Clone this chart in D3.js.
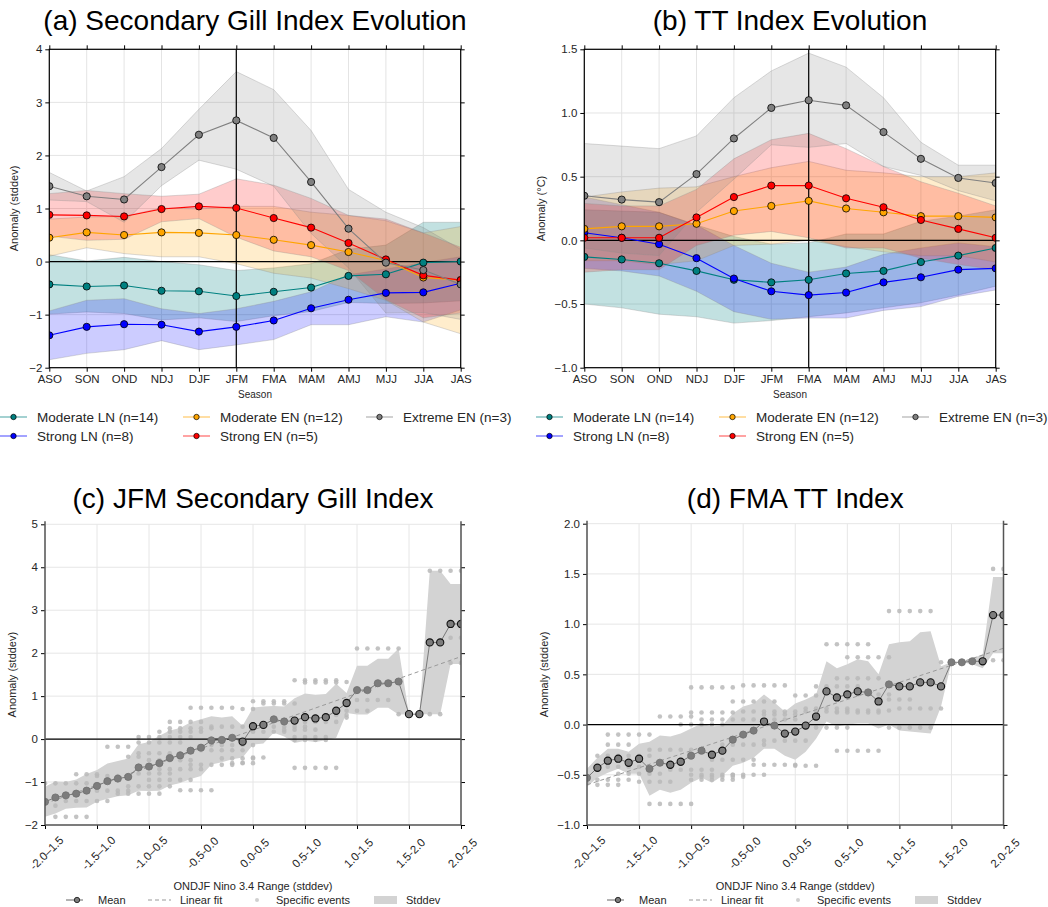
<!DOCTYPE html>
<html>
<head>
<meta charset="utf-8">
<script src="https://cdn.jsdelivr.net/npm/d3@7"></script>
<style>
  body { margin: 0; background: #fff; }
  svg { font-family: "Liberation Sans", Arial, Helvetica, sans-serif; }
</style>
</head>
<body>
<svg id="fig" width="1048" height="907"></svg>
<script>
'use strict';

// ---- data: (a)/(b) seasonal evolution ----
const seasons = ["ASO", "SON", "OND", "NDJ", "DJF", "JFM", "FMA", "MAM", "AMJ", "MJJ", "JJA", "JAS"];
const seriesLabels = ["Moderate LN (n=14)", "Strong LN (n=8)", "Moderate EN (n=12)", "Strong EN (n=5)", "Extreme EN (n=3)"];
const seriesColors = ["#008080", "#0000ff", "#ffa500", "#ff0000", "#808080"];

// (a) secondary Gill index (stddev)
const gillModLN   = [-0.43, -0.47, -0.45, -0.55, -0.56, -0.65, -0.57, -0.49, -0.27, -0.24, -0.02, 0.00];
const gillModLNSd = [0.56, 0.48, 0.53, 0.55, 0.50, 0.48, 0.45, 0.45, 0.50, 0.55, 0.76, 0.74];
const gillStrLN   = [-1.39, -1.23, -1.18, -1.19, -1.32, -1.23, -1.11, -0.88, -0.72, -0.59, -0.58, -0.41];
const gillStrLNSd = [0.46, 0.50, 0.48, 0.30, 0.34, 0.34, 0.36, 0.31, 0.47, 0.45, 0.56, 0.50];
const gillModEN   = [0.45, 0.55, 0.50, 0.55, 0.54, 0.50, 0.41, 0.31, 0.18, 0.02, -0.30, -0.35];
const gillModENSd = [0.35, 0.29, 0.35, 0.46, 0.45, 0.54, 0.63, 0.62, 0.69, 0.75, 0.84, 1.01];
const gillStrEN   = [0.88, 0.87, 0.85, 0.99, 1.04, 1.01, 0.82, 0.64, 0.35, 0.04, -0.26, -0.35];
const gillStrENSd = [0.40, 0.47, 0.43, 0.24, 0.23, 0.55, 0.62, 0.55, 0.52, 0.76, 0.80, 0.62];
const gillExtEN   = [1.42, 1.23, 1.17, 1.78, 2.39, 2.66, 2.33, 1.50, 0.62, -0.02, -0.16, -0.43];
const gillExtENSd = [0.26, 0.10, 0.43, 0.35, 0.48, 0.92, 0.91, 0.97, 0.74, 0.95, 0.80, 0.66];

// (b) TT index (degC)
const ttModLN   = [-0.13, -0.15, -0.18, -0.24, -0.31, -0.33, -0.31, -0.26, -0.24, -0.17, -0.12, -0.06];
const ttModLNSd = [0.37, 0.38, 0.40, 0.36, 0.34, 0.30, 0.29, 0.31, 0.29, 0.32, 0.31, 0.30];
const ttStrLN   = [0.06, 0.02, -0.03, -0.14, -0.30, -0.40, -0.43, -0.41, -0.33, -0.29, -0.23, -0.22];
const ttStrLNSd = [0.28, 0.26, 0.25, 0.26, 0.26, 0.22, 0.18, 0.20, 0.22, 0.23, 0.21, 0.17];
const ttModEN   = [0.09, 0.11, 0.11, 0.13, 0.23, 0.27, 0.31, 0.25, 0.22, 0.19, 0.19, 0.18];
const ttModENSd = [0.25, 0.27, 0.30, 0.29, 0.27, 0.30, 0.31, 0.30, 0.31, 0.31, 0.31, 0.35];
const ttStrEN   = [0.02, 0.02, 0.02, 0.18, 0.34, 0.43, 0.43, 0.33, 0.26, 0.16, 0.09, 0.02];
const ttStrENSd = [0.27, 0.25, 0.25, 0.22, 0.30, 0.36, 0.41, 0.39, 0.32, 0.30, 0.28, 0.25];
const ttExtEN   = [0.35, 0.32, 0.30, 0.52, 0.80, 1.04, 1.10, 1.06, 0.85, 0.64, 0.49, 0.45];
const ttExtENSd = [0.41, 0.42, 0.42, 0.30, 0.32, 0.29, 0.37, 0.30, 0.27, 0.13, 0.10, 0.14];

const gillTicks = [-2, -1, 0, 1, 2, 3, 4];
const ttTicks = [-1.0, -0.5, 0.0, 0.5, 1.0, 1.5];

// ---- data: (c)/(d) composites by ONDJF Nino 3.4 window ----
const windowStarts = [-2.0, -1.9, -1.8, -1.7, -1.6, -1.5, -1.4, -1.3, -1.2, -1.1, -1.0, -0.9, -0.8, -0.7, -0.6, -0.5,
  -0.4, -0.3, -0.2, -0.1, 0.0, 0.1, 0.2, 0.3, 0.4, 0.5, 0.6, 0.7, 0.8, 0.9, 1.0, 1.1, 1.2, 1.3, 1.4, 1.5, 1.6, 1.7,
  1.8, 1.9, 2.0];
const rangeTicks = [-2.0, -1.5, -1.0, -0.5, 0.0, 0.5, 1.0, 1.5, 2.0];
const rangeLabels = ["-2.0\u20131.5", "-1.5\u20131.0", "-1.0\u20130.5", "-0.5-0.0", "0.0-0.5", "0.5-1.0", "1.0-1.5", "1.5-2.0", "2.0-2.5"];

const jfmGillMean = [-1.46, -1.36, -1.31, -1.27, -1.20, -1.09, -0.98, -0.92, -0.88, -0.66, -0.64, -0.56, -0.44, -0.38,
  -0.27, -0.20, -0.03, -0.02, 0.03, -0.06, 0.30, 0.33, 0.46, 0.41, 0.43, 0.51, 0.48, 0.51, 0.66, 0.84, 1.14, 1.14,
  1.30, 1.30, 1.34, 0.58, 0.58, 2.25, 2.25, 2.68, 2.68];
const jfmGillSd = [0.35, 0.37, 0.31, 0.33, 0.39, 0.37, 0.41, 0.41, 0.43, 0.54, 0.57, 0.64, 0.64, 0.64, 0.66, 0.66,
  0.56, 0.52, 0.50, 0.37, 0.43, 0.43, 0.31, 0.35, 0.52, 0.55, 0.55, 0.54, 0.63, 0.23, 0.57, 0.57, 0.57, 0.57, 0.77,
  0.00, 0.00, 1.67, 1.67, 0.93, 0.93];
const jfmGillSig = [0, 0, 0, 0, 0, 0, 0, 0, 0, 0, 0, 0, 0, 0, 0, 0, 0, 0, 0, 1, 1, 1, 0, 0, 1, 1, 1, 1, 1, 1, 0, 0, 0,
  0, 0, 1, 1, 1, 1, 1, 1];
const jfmGillFit = [[-2.0, -1.50], [2.0, 1.92]];
// specific events: [first window, last window, anomaly]
const jfmGillEvents = [
  [-1.9, -1.6, -1.81], [-1.9, -1.9, -1.55], [-1.8, -1.4, -1.44], [-2.0, -1.6, -1.03], [-1.7, -1.5, -0.82],
  [-1.6, -1.2, -1.20], [-1.5, -1.3, -0.86], [-1.4, -1.2, -0.18], [-1.2, -1.1, -0.41], [-1.3, -0.9, -1.27],
  [-1.2, -0.8, -1.10], [-1.1, -0.7, -0.08], [-1.1, -0.6, 0.05], [-1.1, -0.7, -0.33], [-1.0, -0.6, -0.49],
  [-1.1, -0.8, -0.80], [-1.0, -0.6, -0.95], [-0.9, -0.5, 0.17], [-0.8, -0.4, 0.25], [-0.8, -0.5, 0.40],
  [-0.6, -0.2, 0.73], [-0.7, -0.4, -1.19], [-0.5, -0.1, -0.26], [-0.4, 0.0, -0.14], [-0.4, -0.1, 0.29],
  [-0.3, 0.0, -0.45], [-0.2, 0.0, -0.56], [-0.6, -0.2, -0.60], [-0.9, -0.5, -0.70], [-0.1, 0.0, 0.70],
  [0.0, 0.3, 0.88], [0.1, 0.4, 0.83], [0.0, 0.1, -0.43], [-0.1, -0.1, -0.55], [0.0, 0.3, 0.17],
  [0.2, 0.5, 0.29], [0.3, 0.6, 0.22], [0.4, 0.7, 0.05], [0.4, 0.7, -0.02], [0.4, 0.8, 0.40],
  [0.4, 0.8, 1.37], [0.5, 0.8, 1.32], [0.9, 0.9, 1.33], [0.4, 0.8, -0.67], [0.8, 0.9, 0.56],
  [0.9, 1.1, 0.66], [0.9, 0.9, 0.50], [1.0, 1.3, 0.91], [1.0, 1.4, 2.11], [1.4, 1.8, 0.58],
  [1.7, 2.0, 3.92], [1.9, 2.0, 2.36], [1.9, 2.0, 1.77]
];

const fmaTtMean = [-0.53, -0.43, -0.36, -0.34, -0.38, -0.34, -0.44, -0.38, -0.40, -0.37, -0.31, -0.26, -0.30, -0.26,
  -0.15, -0.10, -0.06, 0.03, -0.01, -0.09, -0.07, -0.01, 0.08, 0.33, 0.27, 0.30, 0.33, 0.32, 0.23, 0.40, 0.38, 0.38,
  0.42, 0.42, 0.38, 0.62, 0.62, 0.63, 0.63, 1.09, 1.09];
const fmaTtSd = [0.09, 0.10, 0.12, 0.10, 0.11, 0.15, 0.27, 0.27, 0.28, 0.28, 0.27, 0.27, 0.28, 0.25, 0.26, 0.28,
  0.27, 0.27, 0.23, 0.22, 0.28, 0.26, 0.22, 0.30, 0.29, 0.30, 0.32, 0.31, 0.27, 0.40, 0.44, 0.45, 0.50, 0.51, 0.20,
  0.00, 0.00, 0.03, 0.07, 0.38, 0.38];
const fmaTtSig = [0, 1, 1, 1, 1, 1, 0, 0, 1, 1, 0, 0, 1, 1, 0, 0, 0, 1, 0, 1, 1, 1, 1, 1, 1, 1, 1, 0, 1, 0, 1, 1, 1, 1,
  1, 0, 0, 0, 1, 1, 1];
const fmaTtFit = [[-2.0, -0.60], [2.0, 0.76]];
const fmaTtEvents = [
  [-2.0, -2.0, -0.58], [-1.9, -1.9, -0.31], [-1.9, -1.7, -0.60], [-1.8, -1.4, -0.10], [-1.8, -1.6, -0.20],
  [-1.8, -1.4, -0.31], [-1.8, -1.5, -0.42], [-1.7, -1.3, -0.49], [-1.9, -1.6, -0.55], [-1.5, -1.2, -0.57],
  [-1.4, -1.0, -0.79], [-1.3, -1.0, 0.08], [-1.4, -1.0, -0.25], [-1.2, -0.8, -0.45], [-1.1, -0.7, 0.00],
  [-1.0, -0.6, 0.37], [-1.0, -0.6, 0.12], [-1.0, -0.6, -0.50], [-1.0, -0.6, -0.55], [-0.9, -0.5, 0.05],
  [-0.9, -0.5, -0.52], [-0.8, -0.4, -0.35], [-0.7, -0.3, -0.20], [-0.6, -0.2, 0.23], [-0.6, -0.3, -0.50],
  [-0.5, -0.1, 0.39], [-0.5, -0.1, 0.13], [-0.4, 0.0, 0.05], [-0.4, 0.0, -0.40], [-0.3, -0.1, -0.16],
  [-0.3, 0.0, 0.10], [0.0, 0.2, 0.29], [0.0, 0.2, -0.41], [0.0, 0.1, -0.16], [0.0, 0.4, 0.13],
  [0.1, 0.5, 0.16], [0.2, 0.6, 0.38], [0.3, 0.7, 0.80], [0.4, 0.8, 0.46], [0.5, 0.9, 0.67],
  [0.2, 0.5, -0.03], [0.4, 0.8, -0.26], [0.4, 0.8, 0.12], [0.5, 0.9, 0.14], [0.6, 0.9, 0.30],
  [0.9, 1.3, 1.13], [0.9, 1.1, 0.25], [1.0, 1.4, 0.16], [0.9, 1.3, -0.03], [1.4, 1.8, 0.62],
  [1.9, 2.0, 1.55], [1.9, 2.0, 0.64]
];
const jfmTicks = [-2, -1, 0, 1, 2, 3, 4, 5];
const fmaTicks = [-1.0, -0.5, 0.0, 0.5, 1.0, 1.5, 2.0];
const scatterLegend = ["Mean", "Linear fit", "Specific events", "Stddev"];

const svg = d3.select("#fig");
const TEXT = "#262626";

function styleAxis(g, size) {
  g.attr("font-family", null).attr("font-size", size);
  g.select(".domain").remove();
  g.selectAll(".tick line").attr("stroke", "#000");
  g.selectAll(".tick text").attr("fill", TEXT);
}

function clipRect(id, l, t, r, b) {
  svg.append("clipPath").attr("id", id).append("rect")
    .attr("x", l).attr("y", t).attr("width", r - l).attr("height", b - t);
}

// seasonal evolution panel with stddev bands
function drawEvolution(o) {
  const x = d3.scalePoint().domain(seasons).range([o.left, o.right]);
  const y = d3.scaleLinear().domain(o.yDomain).range([o.bottom, o.top]);
  const g = svg.append("g");

  g.append("g").selectAll("line").data(seasons).join("line")
    .attr("x1", d => x(d)).attr("x2", d => x(d)).attr("y1", o.top).attr("y2", o.bottom)
    .attr("stroke", "#e4e4e4");
  g.append("g").selectAll("line").data(o.yTicks).join("line")
    .attr("x1", o.left).attr("x2", o.right).attr("y1", d => y(d)).attr("y2", d => y(d))
    .attr("stroke", "#e4e4e4");

  clipRect(o.id, o.left, o.top, o.right, o.bottom);
  const plot = g.append("g").attr("clip-path", "url(#" + o.id + ")");

  const band = d3.area()
    .x((d, i) => x(seasons[i]))
    .y0(d => y(d[0] - d[1]))
    .y1(d => y(d[0] + d[1]));
  o.series.forEach(s => {
    plot.append("path")
      .datum(s.mean.map((m, i) => [m, s.sd[i]]))
      .attr("d", band)
      .attr("fill", s.color).attr("fill-opacity", s.alpha)
      .attr("stroke", "#8c8c8c").attr("stroke-opacity", 0.45).attr("stroke-width", 0.7);
  });

  plot.append("line").attr("x1", o.left).attr("x2", o.right)
    .attr("y1", y(0)).attr("y2", y(0)).attr("stroke", "#000").attr("stroke-width", 1.2);
  plot.append("line").attr("x1", x(o.mark)).attr("x2", x(o.mark))
    .attr("y1", o.top).attr("y2", o.bottom).attr("stroke", "#000").attr("stroke-width", 1.2);

  const line = d3.line().x((d, i) => x(seasons[i])).y(d => y(d));
  o.series.forEach(s => {
    plot.append("path").datum(s.mean).attr("d", line)
      .attr("fill", "none").attr("stroke", s.color).attr("stroke-width", 1.1);
    plot.append("g").selectAll("circle").data(s.mean).join("circle")
      .attr("cx", (d, i) => x(seasons[i])).attr("cy", d => y(d)).attr("r", 3.6)
      .attr("fill", s.color).attr("stroke", "#000").attr("stroke-width", 0.8);
  });

  styleAxis(g.append("g").attr("transform", "translate(0," + o.bottom + ")")
    .call(d3.axisBottom(x).tickSize(4).tickPadding(3)), 11.5);
  styleAxis(g.append("g").attr("transform", "translate(0," + o.top + ")")
    .call(d3.axisTop(x).tickSize(4).tickFormat("")), 11);
  styleAxis(g.append("g").attr("transform", "translate(" + o.left + ",0)")
    .call(d3.axisLeft(y).tickValues(o.yTicks).tickFormat(d3.format(o.fmt)).tickSize(4).tickPadding(3)), 11.5);
  styleAxis(g.append("g").attr("transform", "translate(" + o.right + ",0)")
    .call(d3.axisRight(y).tickValues(o.yTicks).tickSize(4).tickFormat("")), 11);

  g.append("rect").attr("x", o.left).attr("y", o.top)
    .attr("width", o.right - o.left).attr("height", o.bottom - o.top)
    .attr("fill", "none").attr("stroke", "#000").attr("stroke-width", 1.2);

  g.append("text").attr("x", (o.left + o.right) / 2).attr("y", 30)
    .attr("text-anchor", "middle").attr("font-size", 28).attr("fill", "#000").text(o.title);
  g.append("text").attr("x", (o.left + o.right) / 2).attr("y", 398)
    .attr("text-anchor", "middle").attr("font-size", 10).attr("fill", TEXT).text("Season");
  g.append("text").attr("transform", "translate(" + o.ylabX + "," + (o.top + o.bottom) / 2 + ") rotate(-90)")
    .attr("text-anchor", "middle").attr("font-size", 11).attr("fill", TEXT).text(o.ylabel);

  // legend, filled column by column (2 rows)
  const leg = g.append("g");
  o.series.forEach((s, i) => {
    const col = Math.floor(i / 2), row = i % 2;
    const lx = o.legX + col * 183, ly = 417 + row * 19;
    leg.append("line").attr("x1", lx).attr("x2", lx + 27).attr("y1", ly).attr("y2", ly)
      .attr("stroke", s.color).attr("stroke-opacity", 0.6).attr("stroke-width", 1.2);
    leg.append("circle").attr("cx", lx + 13.5).attr("cy", ly).attr("r", 2.7)
      .attr("fill", s.color).attr("stroke", "#000").attr("stroke-width", 0.7);
    leg.append("text").attr("x", lx + 37).attr("y", ly + 4.5)
      .attr("font-size", 13.5).attr("fill", TEXT).text(s.label);
  });
}

// composite vs Nino 3.4 window panel
function drawScatter(o) {
  const x = d3.scaleLinear().domain([windowStarts[0], windowStarts[windowStarts.length - 1]]).range([o.left, o.right]);
  const y = d3.scaleLinear().domain(o.yDomain).range([o.bottom, o.top]);
  const g = svg.append("g");

  g.append("g").selectAll("line").data(rangeTicks).join("line")
    .attr("x1", d => x(d)).attr("x2", d => x(d)).attr("y1", o.top).attr("y2", o.bottom)
    .attr("stroke", "#e6e6e6");
  g.append("g").selectAll("line").data(o.yTicks).join("line")
    .attr("x1", o.left).attr("x2", o.right).attr("y1", d => y(d)).attr("y2", d => y(d))
    .attr("stroke", "#e6e6e6");

  clipRect(o.id, o.left, o.top, o.right, o.bottom);
  const plot = g.append("g").attr("clip-path", "url(#" + o.id + ")");

  plot.append("path")
    .datum(o.mean.map((m, i) => [m, o.sd[i]]))
    .attr("d", d3.area().x((d, i) => x(windowStarts[i])).y0(d => y(d[0] - d[1])).y1(d => y(d[0] + d[1])))
    .attr("fill", "#d3d3d3");

  const dots = [];
  o.events.forEach(e => {
    windowStarts.filter(w => w >= e[0] - 1e-9 && w <= e[1] + 1e-9).forEach(w => dots.push([w, e[2]]));
  });
  plot.append("g").selectAll("circle").data(dots).join("circle")
    .attr("cx", d => x(d[0])).attr("cy", d => y(d[1])).attr("r", 2.3)
    .attr("fill", "#b9b9b9").attr("fill-opacity", 0.85);

  plot.append("line").attr("x1", o.left).attr("x2", o.right)
    .attr("y1", y(0)).attr("y2", y(0)).attr("stroke", "#000").attr("stroke-width", 1.2);

  plot.append("path").datum(o.fit)
    .attr("d", d3.line().x(d => x(d[0])).y(d => y(d[1])))
    .attr("fill", "none").attr("stroke", "#999").attr("stroke-width", 1).attr("stroke-dasharray", "4,3");

  plot.append("path").datum(o.mean)
    .attr("d", d3.line().x((d, i) => x(windowStarts[i])).y(d => y(d)))
    .attr("fill", "none").attr("stroke", "#6e6e6e").attr("stroke-width", 0.9);
  plot.append("g").selectAll("circle").data(o.mean).join("circle")
    .attr("cx", (d, i) => x(windowStarts[i])).attr("cy", d => y(d)).attr("r", 3.6)
    .attr("fill", "#7c7c7c")
    .attr("stroke", (d, i) => o.sig[i] ? "#111" : "#707070")
    .attr("stroke-width", (d, i) => o.sig[i] ? 1.1 : 0.8);

  const xb = g.append("g").attr("transform", "translate(0," + o.bottom + ")")
    .call(d3.axisBottom(x).tickValues(rangeTicks).tickSize(4).tickFormat((d, i) => rangeLabels[i]));
  styleAxis(xb, 11.5);
  xb.selectAll(".tick text").attr("y", 0).attr("dy", "0.35em").attr("text-anchor", "middle")
    .attr("transform", "translate(1,28) rotate(-45)");
  styleAxis(g.append("g").attr("transform", "translate(" + o.left + ",0)")
    .call(d3.axisLeft(y).tickValues(o.yTicks).tickFormat(d3.format(o.fmt)).tickSize(4).tickPadding(3)), 11.5);
  styleAxis(g.append("g").attr("transform", "translate(" + o.right + ",0)")
    .call(d3.axisRight(y).tickValues(o.yTicks).tickSize(4).tickFormat("")), 11);

  g.append("line").attr("x1", o.left).attr("x2", o.left).attr("y1", o.top - 3).attr("y2", o.bottom)
    .attr("stroke", "#555").attr("stroke-width", 1.5);
  g.append("line").attr("x1", o.right).attr("x2", o.right).attr("y1", o.top - 3).attr("y2", o.bottom)
    .attr("stroke", "#555").attr("stroke-width", 1.5);
  g.append("line").attr("x1", o.left).attr("x2", o.right).attr("y1", o.bottom).attr("y2", o.bottom)
    .attr("stroke", "#555").attr("stroke-width", 1.5);

  const cx = (o.left + o.right) / 2;
  g.append("text").attr("x", cx).attr("y", 508)
    .attr("text-anchor", "middle").attr("font-size", 28).attr("fill", "#000").text(o.title);
  g.append("text").attr("x", cx).attr("y", 890)
    .attr("text-anchor", "middle").attr("font-size", 11).attr("fill", TEXT).text("ONDJF Nino 3.4 Range (stddev)");
  g.append("text").attr("transform", "translate(" + o.ylabX + "," + (o.top + o.bottom) / 2 + ") rotate(-90)")
    .attr("text-anchor", "middle").attr("font-size", 11).attr("fill", TEXT).text("Anomaly (stddev)");

  // legend row
  const lx = o.legX, ly = 900;
  const leg = g.append("g").attr("font-size", 11).attr("fill", TEXT);
  leg.append("line").attr("x1", lx).attr("x2", lx + 17).attr("y1", ly).attr("y2", ly)
    .attr("stroke", "#555").attr("stroke-width", 0.9);
  leg.append("circle").attr("cx", lx + 11).attr("cy", ly).attr("r", 2.7)
    .attr("fill", "#7c7c7c").attr("stroke", "#111").attr("stroke-width", 0.8);
  leg.append("text").attr("x", lx + 32).attr("y", ly + 4).text(scatterLegend[0]);
  leg.append("line").attr("x1", lx + 82).attr("x2", lx + 105).attr("y1", ly).attr("y2", ly)
    .attr("stroke", "#999").attr("stroke-dasharray", "4,3");
  leg.append("text").attr("x", lx + 114).attr("y", ly + 4).text(scatterLegend[1]);
  leg.append("circle").attr("cx", lx + 191).attr("cy", ly).attr("r", 2)
    .attr("fill", "#d0d0d0");
  leg.append("text").attr("x", lx + 210).attr("y", ly + 4).text(scatterLegend[2]);
  leg.append("rect").attr("x", lx + 308).attr("y", ly - 4).attr("width", 23).attr("height", 8)
    .attr("fill", "#d3d3d3");
  leg.append("text").attr("x", lx + 340).attr("y", ly + 4).text(scatterLegend[3]);
}

function seriesList(means, sds) {
  const alphas = [0.24, 0.2, 0.2, 0.2, 0.2];
  return means.map((m, i) => ({ mean: m, sd: sds[i], color: seriesColors[i], label: seriesLabels[i], alpha: alphas[i] }));
}

drawEvolution({
  id: "clipA", left: 49.3, right: 460.7, top: 49.3, bottom: 367.7,
  yDomain: [-2, 4], yTicks: gillTicks, fmt: "d", mark: "JFM",
  title: "(a) Secondary Gill Index Evolution", ylabel: "Anomaly (stddev)", ylabX: 18, legX: 0,
  series: seriesList([gillModLN, gillStrLN, gillModEN, gillStrEN, gillExtEN],
    [gillModLNSd, gillStrLNSd, gillModENSd, gillStrENSd, gillExtENSd])
});

drawEvolution({
  id: "clipB", left: 584.3, right: 995.7, top: 49.3, bottom: 367.7,
  yDomain: [-1.0, 1.5], yTicks: ttTicks, fmt: ".1f", mark: "FMA",
  title: "(b) TT Index Evolution", ylabel: "Anomaly (\u00B0C)", ylabX: 545, legX: 536,
  series: seriesList([ttModLN, ttStrLN, ttModEN, ttStrEN, ttExtEN],
    [ttModLNSd, ttStrLNSd, ttModENSd, ttStrENSd, ttExtENSd])
});

drawScatter({
  id: "clipC", left: 45, right: 461, top: 524.3, bottom: 825,
  yDomain: [-2, 5], yTicks: jfmTicks, fmt: "d",
  mean: jfmGillMean, sd: jfmGillSd, sig: jfmGillSig, fit: jfmGillFit, events: jfmGillEvents,
  title: "(c) JFM Secondary Gill Index", ylabX: 16, legX: 66
});

drawScatter({
  id: "clipD", left: 587, right: 1003.5, top: 523.7, bottom: 825,
  yDomain: [-1.0, 2.0], yTicks: fmaTicks, fmt: ".1f",
  mean: fmaTtMean, sd: fmaTtSd, sig: fmaTtSig, fit: fmaTtFit, events: fmaTtEvents,
  title: "(d) FMA TT Index", ylabX: 548, legX: 607
});
</script>
</body>
</html>
